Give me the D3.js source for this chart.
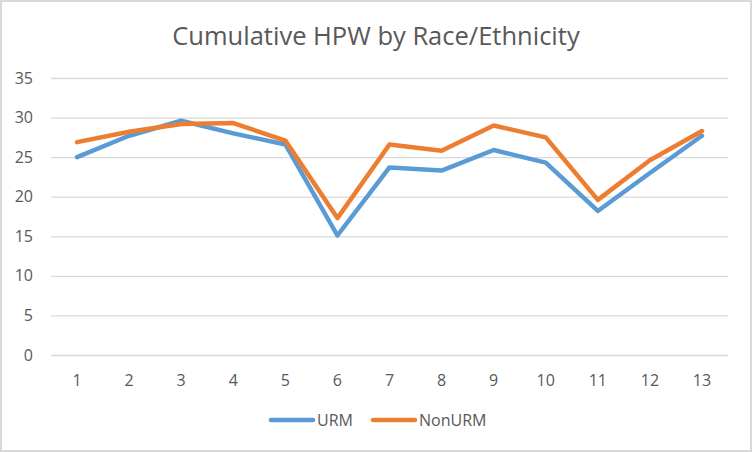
<!DOCTYPE html>
<html>
<head>
<meta charset="utf-8">
<script src="https://cdn.jsdelivr.net/npm/d3@7.9.0/dist/d3.min.js"></script>
<style>
  html, body { margin: 0; padding: 0; background: #fff; }
  svg { display: block; font-family: 'Open Sans', 'Noto Sans', sans-serif; }
</style>
</head>
<body>
<div id="chart"></div>
<script>
const title = 'Cumulative HPW by Race/Ethnicity';
const categories = ['1', '2', '3', '4', '5', '6', '7', '8', '9', '10', '11', '12', '13'];
const urm = [25.0, 27.7, 29.6, 28.0, 26.6, 15.1, 23.7, 23.3, 25.9, 24.3, 18.2, 23.0, 27.7];
const nonUrm = [26.9, 28.2, 29.2, 29.3, 27.1, 17.3, 26.6, 25.8, 29.0, 27.5, 19.6, 24.6, 28.3];
const yTicks = [0, 5, 10, 15, 20, 25, 30, 35];

const series = [
  { name: 'URM', values: urm, color: '#5B9BD5' },
  { name: 'NonURM', values: nonUrm, color: '#ED7D31' },
];

const width = 752;
const height = 452;
const margin = { top: 78, right: 24, bottom: 97, left: 51 };
const textColor = '#595959';

const svg = d3
  .select('#chart')
  .append('svg')
  .attr('width', width)
  .attr('height', height);

// chart frame
svg
  .append('rect')
  .attr('x', 1)
  .attr('y', 1)
  .attr('width', width - 2)
  .attr('height', height - 2)
  .attr('fill', '#fff')
  .attr('stroke', '#D9D9D9')
  .attr('stroke-width', 2);

const x = d3
  .scaleBand()
  .domain(categories)
  .range([margin.left, width - margin.right]);

const y = d3
  .scaleLinear()
  .domain([0, 35])
  .range([height - margin.bottom, margin.top]);

// gridlines
svg
  .append('g')
  .attr('class', 'gridlines')
  .attr('transform', `translate(${margin.left}, 0)`)
  .call(
    d3.axisLeft(y)
      .tickValues(yTicks)
      .tickFormat('')
      .tickSize(-(width - margin.left - margin.right)),
  )
  .call((g) => g.select('.domain').remove())
  .call((g) => g.selectAll('line').attr('stroke', '#D9D9D9').attr('stroke-width', 1.3));

// y axis labels
svg
  .append('g')
  .attr('transform', `translate(${margin.left}, 0)`)
  .call(d3.axisLeft(y).tickValues(yTicks).tickSize(0).tickPadding(18))
  .call((g) => g.select('.domain').remove())
  .call((g) =>
    g.selectAll('text')
      .attr('fill', textColor)
      .style('font-size', '16px')
      .style('font-family', "'Open Sans', sans-serif"),
  );

// x axis labels
svg
  .append('g')
  .attr('transform', `translate(0, ${height - margin.bottom})`)
  .call(d3.axisBottom(x).tickSize(0).tickPadding(19.5))
  .call((g) => g.select('.domain').remove())
  .call((g) =>
    g.selectAll('text')
      .attr('fill', textColor)
      .style('font-size', '16px')
      .style('font-family', "'Open Sans', sans-serif"),
  );

const line = d3
  .line()
  .x((d, i) => x(categories[i]) + x.bandwidth() / 2)
  .y((d) => y(d));

svg
  .append('g')
  .selectAll('path')
  .data(series)
  .join('path')
  .attr('d', (d) => line(d.values))
  .attr('fill', 'none')
  .attr('stroke', (d) => d.color)
  .attr('stroke-width', 4.5)
  .attr('stroke-linejoin', 'round')
  .attr('stroke-linecap', 'round');

// title
svg
  .append('text')
  .attr('x', 376)
  .attr('y', 45)
  .attr('text-anchor', 'middle')
  .attr('fill', textColor)
  .style('font-size', '25.5px')
  .text(title);

// legend
const legend = svg
  .append('g')
  .attr('transform', 'translate(270, 420)');

const legendOffsets = [0, 102];

const item = legend
  .selectAll('g')
  .data(series)
  .join('g')
  .attr('transform', (d, i) => `translate(${legendOffsets[i]}, 0)`);

item
  .append('line')
  .attr('x1', 1)
  .attr('x2', 43)
  .attr('stroke', (d) => d.color)
  .attr('stroke-width', 4.5)
  .attr('stroke-linecap', 'round');

item
  .append('text')
  .attr('x', 47)
  .attr('y', 6)
  .attr('fill', textColor)
  .style('font-size', '16px')
  .text((d) => d.name);
</script>
</body>
</html>
